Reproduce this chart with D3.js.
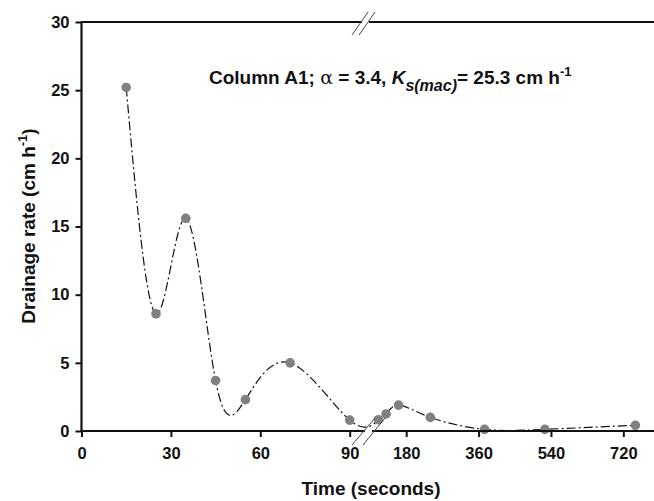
<!DOCTYPE html>
<html>
<head>
<meta charset="utf-8">
<script src="https://cdn.jsdelivr.net/npm/d3@7"></script>
<style>
  body { margin: 0; background: #fff; }
  svg text { font-family: "Liberation Sans", Arial, sans-serif; fill: #111; }
</style>
</head>
<body>
<div id="chart"></div>
<script>
// Drainage rate vs time, broken x axis (0-90 s, then 180-720 s)

var times = [15, 25, 35, 45, 55, 70, 90, 111, 130, 161, 240, 375, 525, 750];
var rates = [25.2, 8.6, 15.6, 3.7, 2.3, 5.0, 0.8, 0.83, 1.25, 1.9, 1.0, 0.12, 0.12, 0.42];

var xTicksLeft = [0, 30, 60, 90];
var xTicksRight = [180, 360, 540, 720];
var yTicks = [0, 5, 10, 15, 20, 25, 30];

var width = 654, height = 501;
var mLeft = 81.5, mTop = 22, mBottom = 431;
var breakAt = 92; // values up to here go on the first segment

var svg = d3.select("#chart").append("svg")
    .attr("width", width)
    .attr("height", height);

// two linear pieces for the broken axis
var x1 = d3.scaleLinear().domain([0, 95]).range([mLeft, 364.6]);
var x2 = d3.scaleLinear().domain([90, 800]).range([370, 655.5]);
function x(t) { return t <= breakAt ? x1(t) : x2(t); }

var y = d3.scaleLinear().domain([0, 30]).range([mBottom, mTop]);

// clip so the spline doesn't dip under the axis
svg.append("clipPath").attr("id", "clip")
  .append("rect").attr("x", mLeft).attr("y", 0).attr("width", width - mLeft).attr("height", mBottom - 1);

var pts = times.map(function(t, i) { return [t, rates[i]]; });

var line = d3.line()
    .x(function(d) { return x(d[0]); })
    .y(function(d) { return y(d[1]); })
    .curve(d3.curveNatural);

svg.append("path")
    .datum(pts)
    .attr("clip-path", "url(#clip)")
    .attr("d", line)
    .attr("fill", "none")
    .attr("stroke", "#111")
    .attr("stroke-width", 1.2)
    .attr("stroke-dasharray", "9,3,2,3");

svg.selectAll("circle.pt")
    .data(pts)
  .enter().append("circle")
    .attr("class", "pt")
    .attr("cx", function(d) { return x(d[0]); })
    .attr("cy", function(d) { return y(d[1]); })
    .attr("r", 4.8)
    .attr("fill", "#808080");

// axes
var yAxis = d3.axisLeft(y).tickValues(yTicks).tickSize(6).tickSizeOuter(0).tickPadding(6);
var gy = svg.append("g").attr("transform", "translate(" + mLeft + ",0)").call(yAxis);

var xAxis1 = d3.axisBottom(x1).tickValues(xTicksLeft).tickSize(6).tickSizeOuter(0).tickPadding(10);
var xAxis2 = d3.axisBottom(x2).tickValues(xTicksRight).tickSize(6).tickSizeOuter(0).tickPadding(10);
var gx1 = svg.append("g").attr("transform", "translate(0," + mBottom + ")").call(xAxis1);
var gx2 = svg.append("g").attr("transform", "translate(0," + mBottom + ")").call(xAxis2);

[gy, gx1, gx2].forEach(function(g) {
  g.select(".domain").remove();
  g.selectAll(".tick line").attr("stroke", "#111").attr("stroke-width", 2);
  g.selectAll(".tick text").attr("font-size", 16.5).attr("font-weight", "bold")
    .attr("font-family", "Liberation Sans, Arial, sans-serif").attr("fill", "#111");
});

// axis lines, with gaps for the break
var axisLines = [
  [mLeft, mTop, mLeft, mBottom + 1],
  [mLeft - 1, mBottom, 365, mBottom],
  [372, mBottom, width, mBottom],
  [mLeft - 1, mTop, 362, mTop],
  [369, mTop, width, mTop]
];
svg.selectAll("line.ax")
    .data(axisLines)
  .enter().append("line")
    .attr("x1", function(d) { return d[0]; })
    .attr("y1", function(d) { return d[1]; })
    .attr("x2", function(d) { return d[2]; })
    .attr("y2", function(d) { return d[3]; })
    .attr("stroke", "#111")
    .attr("stroke-width", 2.2);

// break marks
var slashes = [
  [352, 445, 375, 418], [363, 445, 385, 418],
  [352, 35, 368, 12], [359, 35, 375, 12]
];
svg.selectAll("line.brk")
    .data(slashes)
  .enter().append("line")
    .attr("x1", function(d) { return d[0]; })
    .attr("y1", function(d) { return d[1]; })
    .attr("x2", function(d) { return d[2]; })
    .attr("y2", function(d) { return d[3]; })
    .attr("stroke", "#444")
    .attr("stroke-width", 1);

// axis titles
svg.append("text")
    .attr("x", 371).attr("y", 495)
    .attr("text-anchor", "middle")
    .attr("font-size", 19)
    .attr("font-weight", "bold")
    .text("Time (seconds)");

var yt = svg.append("text")
    .attr("transform", "translate(35,226) rotate(-90)")
    .attr("text-anchor", "middle")
    .attr("font-size", 19)
    .attr("font-weight", "bold");
yt.append("tspan").text("Drainage rate (cm h");
yt.append("tspan").attr("font-size", 13).attr("dy", -8).text("-1");
yt.append("tspan").attr("dy", 8).text(")");

// annotation
var ann = svg.append("text")
    .attr("x", 209).attr("y", 84)
    .attr("font-size", 19)
    .attr("font-weight", "bold");
ann.append("tspan").text("Column A1; ");
ann.append("tspan").attr("font-weight", "normal").attr("font-family", "DejaVu Serif, serif").text("\u03b1");
ann.append("tspan").text(" = 3.4, ");
ann.append("tspan").attr("font-style", "italic").text("K");
ann.append("tspan").attr("font-style", "italic").attr("font-size", 16).attr("dy", 7).text("s(mac)");
ann.append("tspan").attr("dy", -7).text("= 25.3 cm h");
ann.append("tspan").attr("font-size", 13).attr("dy", -8).text("-1");
</script>
</body>
</html>
